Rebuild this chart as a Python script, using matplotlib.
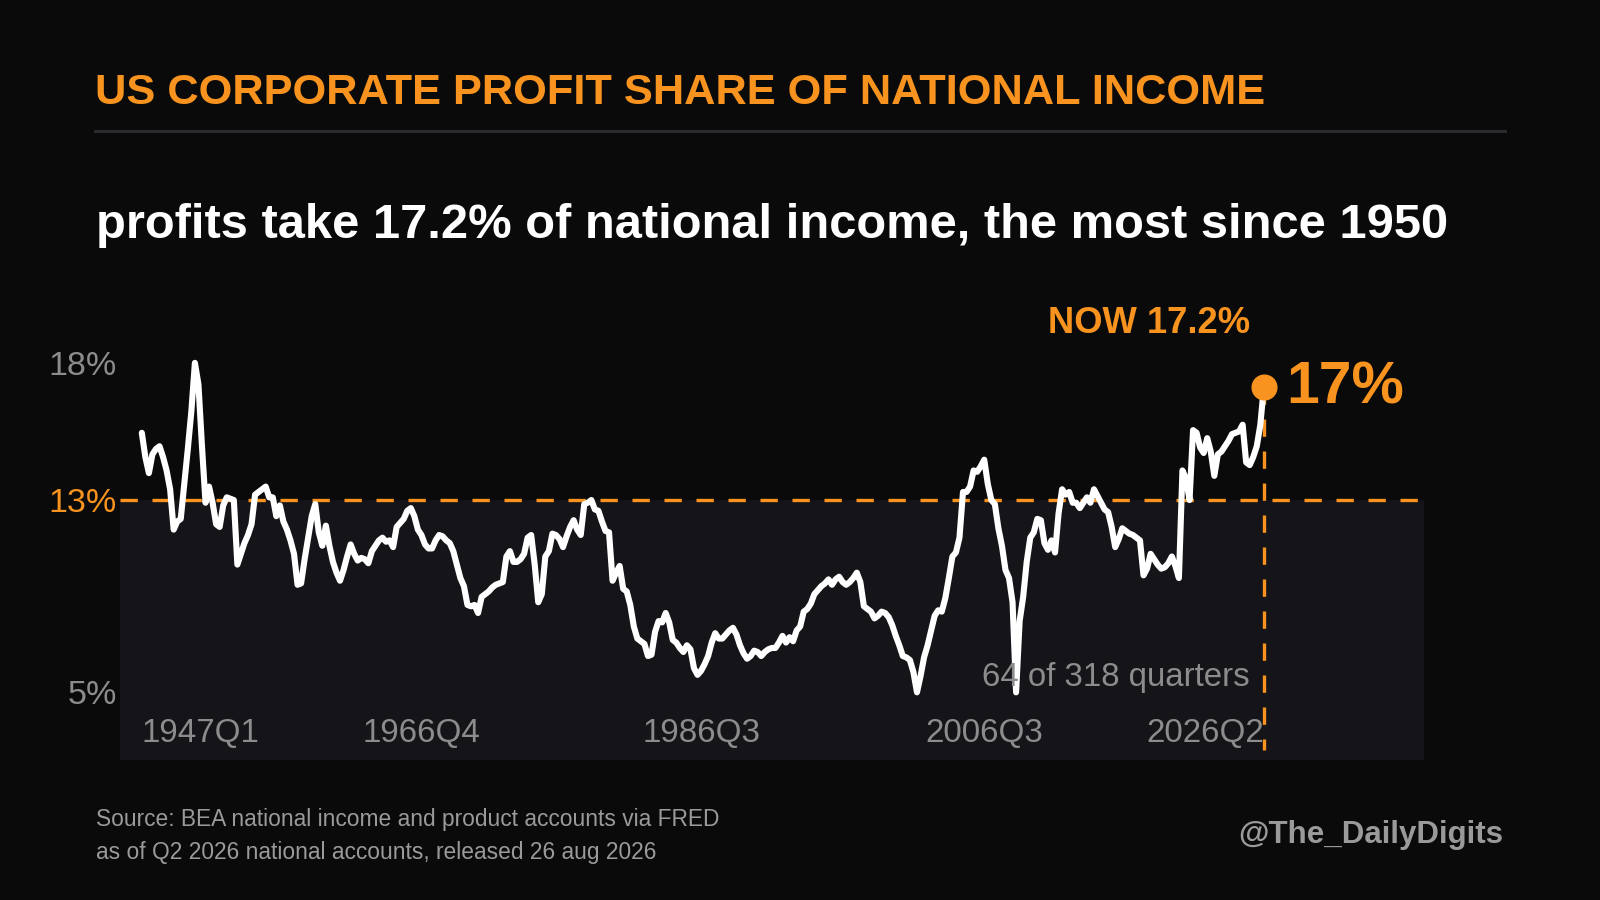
import matplotlib
matplotlib.use("Agg")
import matplotlib.pyplot as plt
from matplotlib.lines import Line2D

plt.rcParams['font.family'] = ['Liberation Sans', 'DejaVu Sans']

BG = "#0a0a0a"
PANEL = "#141419"
ORANGE = "#f7931e"
GRAY = "#8c8c8c"
FOOT = "#9a9a9a"
WHITE = "#ffffff"

# ---------------- data ----------------
start_year = 1947
values = [
    # 0-38
    15.5, 14.6, 14.0, 14.7, 14.9, 15.0, 14.6, 14.1, 13.4, 11.9,
    12.2, 12.3, 13.6, 14.9, 16.3, 18.1, 17.3, 15.0, 12.9, 13.5,
    12.9, 12.1, 12.0, 12.8, 13.1, 13.05, 13.0, 10.6, 11.0, 11.4,
    11.7, 12.1, 13.2, 13.3, 13.4, 13.5, 13.1, 13.1, 12.4,
    # 39-78
    12.8, 12.2, 11.9, 11.5, 11.0, 9.85, 9.9, 10.8, 11.6, 12.4,
    12.85, 11.8, 11.3, 12.05, 11.3, 10.7, 10.3, 10.0, 10.4, 10.9,
    11.35, 11.0, 10.75, 10.85, 10.8, 10.65, 11.1, 11.3, 11.5, 11.6,
    11.45, 11.5, 11.25, 12.0, 12.15, 12.3, 12.6, 12.7, 12.4, 11.9,
    # 79-117
    11.7, 11.35, 11.2, 11.2, 11.5, 11.7, 11.65, 11.5, 11.4, 11.1,
    10.6, 10.1, 9.8, 9.1, 9.05, 9.1, 8.8, 9.4, 9.5, 9.6,
    9.75, 9.85, 9.9, 9.95, 10.9, 11.1, 10.7, 10.7, 10.8, 11.0,
    11.6, 11.7, 10.6, 9.2, 9.5, 10.9, 11.1, 11.75, 11.7,
    # 118-156
    11.55, 11.25, 11.65, 12.0, 12.25, 11.9, 11.7, 12.85, 12.9, 13.0,
    12.65, 12.6, 12.2, 11.85, 11.8, 10.0, 10.3, 10.55, 9.7, 9.6,
    9.1, 8.3, 7.85, 7.75, 7.65, 7.2, 7.25, 8.1, 8.5, 8.45,
    8.8, 8.45, 7.8, 7.7, 7.5, 7.35, 7.6, 7.45, 6.75,
    # 157-197
    6.5, 6.65, 6.9, 7.2, 7.7, 8.05, 7.85, 7.85, 8.0, 8.15,
    8.25, 8.0, 7.6, 7.3, 7.1, 7.2, 7.4, 7.35, 7.2, 7.35,
    7.45, 7.5, 7.5, 7.7, 7.95, 7.7, 7.9, 7.75, 8.15, 8.3,
    8.85, 8.95, 9.15, 9.5, 9.65, 9.8, 9.9, 10.05, 9.85, 10.05, 10.15,
    # 198-237
    9.95, 9.85, 9.95, 10.1, 10.3, 9.95, 9.05, 8.95, 8.85, 8.6,
    8.7, 8.85, 8.8, 8.65, 8.35, 7.95, 7.6, 7.2, 7.15, 7.05,
    6.6, 5.85, 6.45, 7.15, 7.6, 8.15, 8.7, 8.9, 8.85, 9.35,
    10.1, 10.9, 11.05, 11.6, 13.3, 13.3, 13.5, 14.1, 14.05, 14.25,
    # 238-277
    14.5, 13.6, 13.0, 12.85, 11.95, 11.3, 10.4, 10.1, 9.2, 5.85,
    8.5, 9.4, 10.7, 11.6, 11.8, 12.3, 12.25, 11.4, 11.15, 11.5,
    11.05, 12.5, 13.4, 13.2, 13.3, 12.9, 12.9, 12.7, 12.9, 13.1,
    12.9, 13.4, 13.15, 12.9, 12.65, 12.55, 12.0, 11.25, 11.55, 11.95,
    # 278-317
    11.85, 11.75, 11.7, 11.6, 11.5, 10.2, 10.45, 11.0, 10.8, 10.6,
    10.45, 10.5, 10.65, 10.9, 10.55, 10.1, 14.1, 13.8, 13.0, 15.6,
    15.5, 14.95, 14.75, 15.3, 14.8, 13.9, 14.7, 14.8, 15.0, 15.2,
    15.45, 15.5, 15.55, 15.8, 14.4, 14.3, 14.6, 15.0, 15.8, 17.2,
]
quarters = [f"{start_year + i // 4}Q{i % 4 + 1}" for i in range(len(values))]
threshold = 13
tick_idx = [0, 79, 158, 238, 317]

title = "US CORPORATE PROFIT SHARE OF NATIONAL INCOME"
subtitle = "profits take 17.2% of national income, the most since 1950"
now_label = "NOW 17.2%"
big_label = "17%"
count_label = "64 of 318 quarters"
source1 = "Source: BEA national income and product accounts via FRED"
source2 = "as of Q2 2026 national accounts, released 26 aug 2026"
handle = "@The_DailyDigits"

# ---------------- figure ----------------
W, H = 1600, 900
fig = plt.figure(figsize=(16, 9), dpi=100, facecolor=BG)


def fx(x):
    return x / W


def fy(y):
    return 1 - y / H


ax = fig.add_axes([fx(120), fy(760), (1423.5 - 120) / W, (760 - 340) / H])
ax.set_facecolor(BG)
ax.set_xlim(-6.16, 362.1)
ax.set_ylim(3.335, 18.95)
for s in ax.spines.values():
    s.set_visible(False)

x = list(range(len(values)))
last = len(values) - 1
ymin = ax.get_ylim()[0]

ax.axhspan(ymin, threshold, color=PANEL, lw=0, zorder=0)
ax.axhline(threshold, color=ORANGE, lw=2.4, dashes=(5.2, 4.4), zorder=1)
ax.plot([last, last], [values[-1], 3.71], color=ORANGE, lw=2.4,
        dashes=(5.2, 4.4), zorder=1)
ax.plot(x, values, color=WHITE, lw=4.4, solid_joinstyle='round',
        solid_capstyle='round', zorder=3)
ax.plot([last], [values[-1]], 'o', ms=17.8, color=ORANGE, mec=ORANGE,
        zorder=4)

vmin, vmax = min(values), max(values)
yt = [vmin, threshold, vmax]
ax.set_yticks(yt)
ax.set_yticklabels([f"{int(v)}%" for v in yt])
ax.tick_params(axis='y', length=0, pad=2.4, labelsize=24.5, labelcolor=GRAY)
ax.get_yticklabels()[1].set_color(ORANGE)
ax.set_xticks([])

for i in tick_idx:
    ha = 'left' if i == 0 else ('right' if i == last else 'center')
    ax.text(i, 4.015, quarters[i], ha=ha, va='baseline', fontsize=23.9,
            color=GRAY, zorder=5)

# annotations
fig.text(fx(1250), fy(686), count_label, ha='right', va='baseline',
         fontsize=23.8, color=GRAY)
fig.text(fx(1250), fy(332.7), now_label, ha='right', va='baseline',
         fontsize=26.2, fontweight='bold', color=ORANGE)
fig.text(fx(1286), fy(403.3), big_label, ha='left', va='baseline',
         fontsize=42.3, fontweight='bold', color=ORANGE)

# header
fig.text(fx(95), fy(104), title, ha='left', va='baseline', fontsize=31.2,
         fontweight='bold', color=ORANGE)
fig.add_artist(Line2D([fx(95), fx(1505)], [fy(131), fy(131)],
                      color="#2a2a2e", lw=2.2))
fig.text(fx(96), fy(237.5), subtitle, ha='left', va='baseline', fontsize=35.2,
         fontweight='bold', color=WHITE)

# footer
fig.text(fx(96), fy(826), source1, ha='left', va='baseline', fontsize=16.35,
         color=FOOT)
fig.text(fx(96), fy(859), source2, ha='left', va='baseline', fontsize=16.35,
         color=FOOT)
fig.text(fx(1503), fy(843), handle, ha='right', va='baseline', fontsize=22.5,
         fontweight='bold', color=FOOT)

fig.savefig("out.png", dpi=100, facecolor=BG)
